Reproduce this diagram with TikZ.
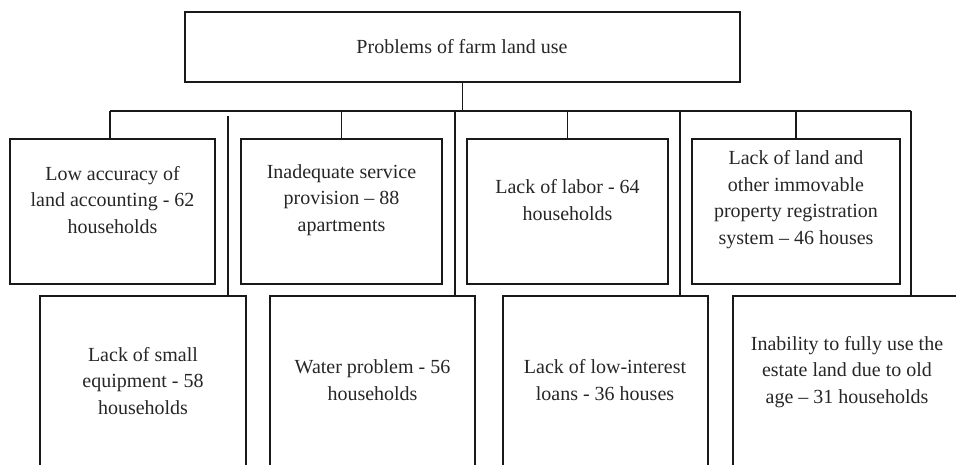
\documentclass[tikz,border=0pt]{standalone}
\usepackage{fontspec}
\setmainfont{Liberation Serif}
\begin{document}
\begin{tikzpicture}[x=1pt,y=1pt,
  box/.style={draw=black!90, line width=1.1pt, rectangle, inner sep=0pt},
  lbl/.style={align=center, inner sep=0pt, text=black!85, font=\fontsize{20}{26.5}\selectfont},
  conn/.style={draw=black!90, line width=1.1pt}]
\useasboundingbox (0,0) rectangle (956,-465);
\clip (0,0) rectangle (956,-465);
% root
\node[box, minimum width=555, minimum height=70] (root) at (462.5,-47) {};
\node[lbl] (roott) at (462,-47) {Problems of farm land use};
% top row
\node[box, minimum width=205, minimum height=145] (t1) at (112.5,-211.5) {};
\node[box, minimum width=201, minimum height=145] (t2) at (341.5,-211.5) {};
\node[box, minimum width=201, minimum height=145] (t3) at (567.5,-211.5) {};
\node[box, minimum width=208, minimum height=145] (t4) at (796,-211.5) {};
\node[lbl] (t1t) at (112.5,-200) {Low accuracy of\\land accounting - 62\\households};
\node[lbl] (t2t) at (341.5,-200) {Inadequate service\\provision -- 88\\apartments};
\node[lbl] (t3t) at (567.5,-200) {Lack of labor - 64\\households};
\node[lbl] (t4t) at (796,-199.5) {Lack of land and\\other immovable\\property registration\\system -- 46 houses};
% bottom row (extends beyond the lower edge)
\node[box, minimum width=206, minimum height=180] (b1) at (143,-386) {};
\node[box, minimum width=205, minimum height=180] (b2) at (372.5,-386) {};
\node[box, minimum width=205, minimum height=180] (b3) at (605.5,-386) {};
\node[box, minimum width=228, minimum height=180] (b4) at (847,-386) {};
\node[lbl] (b1t) at (143,-381) {Lack of small\\equipment - 58\\households};
\node[lbl] (b2t) at (372.5,-380) {Water problem - 56\\households};
\node[lbl] (b3t) at (605,-380) {Lack of low-interest\\loans - 36 houses};
\node[lbl] (b4t) at (847,-372) {Inability to fully use the\\estate land due to old\\age -- 31 households};
% connectors
\coordinate (busL) at (110,-111);
\coordinate (busR) at (911,-111);
\coordinate (v1) at (228,-116);
\coordinate (v2) at (455,-111);
\coordinate (v3) at (680,-111);
\draw[conn] (root.south) -- (root.south |- busL);
\draw[conn] (busL) -- (busR);
\draw[conn] (busL) -- (busL |- t1.north);
\draw[conn] (t2.north) -- (t2.north |- busL);
\draw[conn] (t3.north) -- (t3.north |- busL);
\draw[conn] (t4.north) -- (t4.north |- busL);
\draw[conn] (v1) -- (v1 |- b1.north);
\draw[conn] (v2) -- (v2 |- b2.north);
\draw[conn] (v3) -- (v3 |- b3.north);
\draw[conn] (busR) -- (busR |- b4.north);
\end{tikzpicture}
\end{document}
